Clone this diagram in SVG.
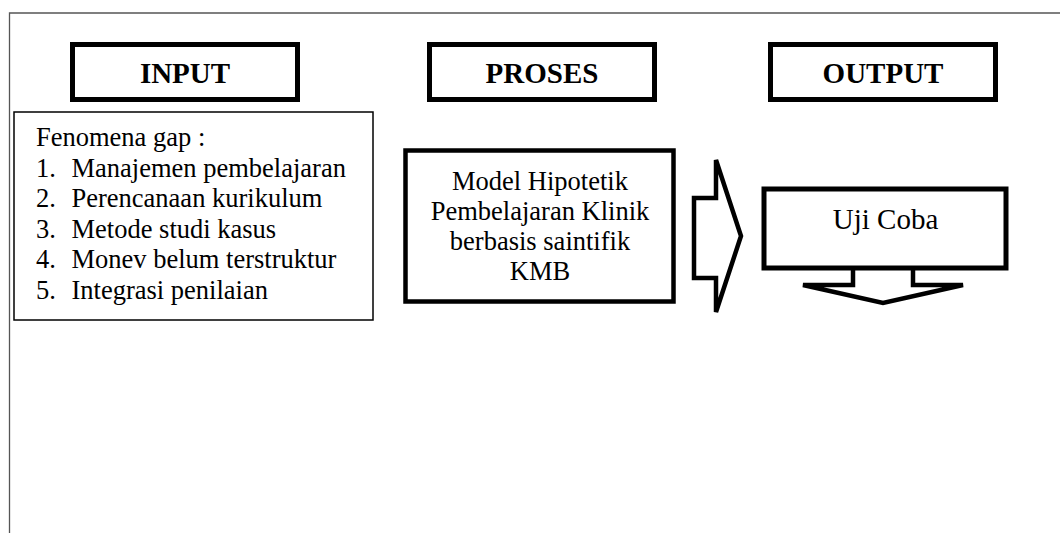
<svg xmlns="http://www.w3.org/2000/svg" width="1060" height="533" viewBox="0 0 1060 533">
<style>
.hdr{fill:#fff;stroke:#000;stroke-width:5}
.ht{font-family:'Liberation Serif','Times New Roman',Times,serif;font-weight:bold;font-size:29px;fill:#000;text-anchor:middle}
.t{font-family:'Liberation Serif','Times New Roman',Times,serif;font-weight:normal;font-size:26.5px;fill:#000}
.c{text-anchor:middle}
.blk{fill:#fff;stroke:#000;stroke-width:4.5;stroke-linejoin:miter}
</style>
<rect width="1060" height="533" fill="#fff"/>
<path d="M9.5,533 V13 H1060" fill="none" stroke="#555" stroke-width="1.3"/>
<g id="input">
<rect class="hdr" x="72.5" y="44.5" width="225" height="55"/>
<text class="ht" x="185" y="83">INPUT</text>
</g>
<g id="proses">
<rect class="hdr" x="429.5" y="44.5" width="225" height="55"/>
<text class="ht" x="542" y="83">PROSES</text>
</g>
<g id="output">
<rect class="hdr" x="770.5" y="44.5" width="225" height="55"/>
<text class="ht" x="883" y="83">OUTPUT</text>
</g>
<g id="fenomena">
<rect x="14" y="112" width="359" height="208" fill="#fff" stroke="#000" stroke-width="1.5"/>
<text class="t" x="36" y="146">Fenomena gap :</text>
<text class="t" x="36" y="176.5">1.</text><text class="t" x="71.5" y="176.5">Manajemen pembelajaran</text>
<text class="t" x="36" y="207">2.</text><text class="t" x="71.5" y="207">Perencanaan kurikulum</text>
<text class="t" x="36" y="237.5">3.</text><text class="t" x="71.5" y="237.5">Metode studi kasus</text>
<text class="t" x="36" y="268">4.</text><text class="t" x="71.5" y="268">Monev belum terstruktur</text>
<text class="t" x="36" y="298.5">5.</text><text class="t" x="71.5" y="298.5">Integrasi penilaian</text>
</g>
<g id="model">
<rect x="405.5" y="150.5" width="268" height="151" fill="#fff" stroke="#000" stroke-width="4.5"/>
<text class="t c" x="540" y="190">Model Hipotetik</text>
<text class="t c" x="540" y="220">Pembelajaran Klinik</text>
<text class="t c" x="540" y="250">berbasis saintifik</text>
<text class="t c" x="540" y="280">KMB</text>
</g>
<g id="connectors">
<polygon class="blk" points="694,198 716,198 716,160 741,236 716,312 716,278 694,278"/>
<polygon class="blk" points="853,266 853,285 803,285 883,303 963,285 913,285 913,266"/>
</g>
<g id="ujicoba">
<rect x="764" y="189" width="242" height="79" fill="#fff" stroke="#000" stroke-width="5"/>
<text class="t c" x="885.5" y="229" style="font-size:29px">Uji Coba</text>
</g>
</svg>
